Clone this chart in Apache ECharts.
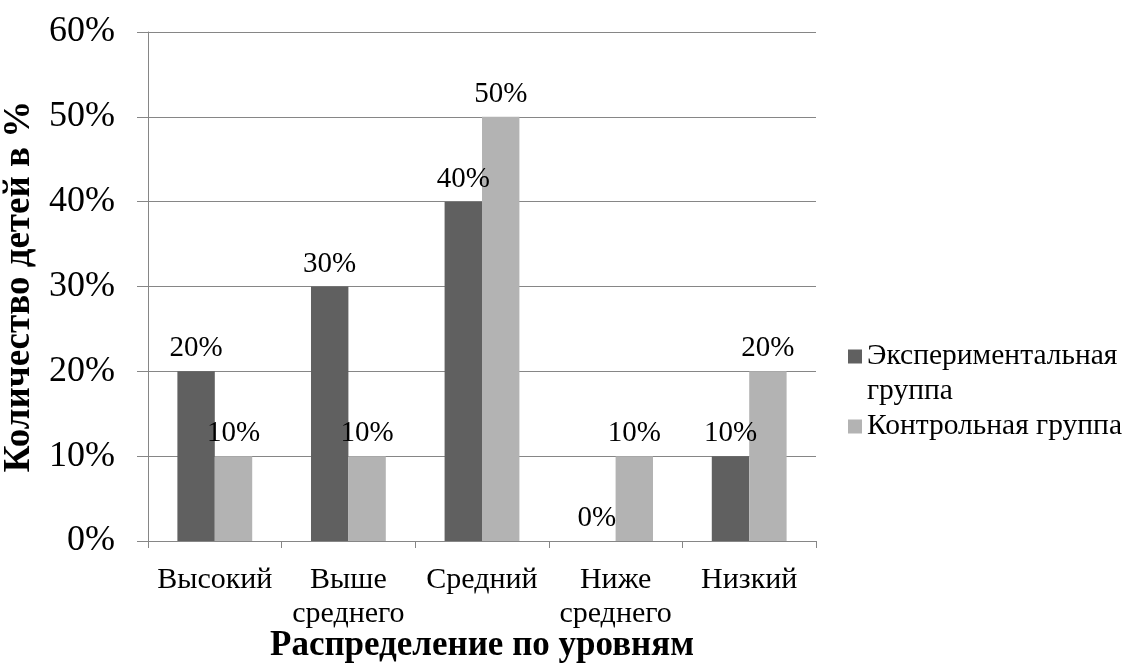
<!DOCTYPE html>
<html>
<head>
<meta charset="utf-8">
<script src="https://cdn.jsdelivr.net/npm/echarts@6/dist/echarts.min.js"></script>
<style>
  html, body { margin: 0; padding: 0; background: #ffffff; }
  #chart { width: 1128px; height: 669px; }
</style>
</head>
<body>
<div id="chart"></div>
<script>
const categories = ['Высокий', 'Выше\nсреднего', 'Средний', 'Ниже\nсреднего', 'Низкий'];
const seriesNames = ['Экспериментальная группа', 'Контрольная группа'];
const experimental = [20, 30, 40, 0, 10];
const control = [10, 10, 50, 10, 20];
const yTicks = { min: 0, max: 60, interval: 10 };

const FONT = 'Liberation Serif';
const GRID_COLOR = '#868686';

const chart = echarts.init(document.getElementById('chart'), null, { renderer: 'canvas' });

const labelStyle = {
  show: true,
  position: 'top',
  distance: 8,
  formatter: '{c}%',
  color: '#000',
  fontFamily: FONT,
  fontSize: 29
};

chart.setOption({
  animation: false,
  backgroundColor: '#ffffff',
  textStyle: { fontFamily: FONT },
  grid: { left: 148, top: 32, right: 312, bottom: 128, containLabel: false, outerBoundsMode: 'none' },
  legend: {
    orient: 'vertical',
    left: 848,
    top: 304,
    padding: 0,
    itemGap: 0,
    itemWidth: 14,
    itemHeight: 14,
    icon: 'rect',
    formatter: function (name) {
      return name === seriesNames[0] ? '\n' + name.replace(' ', '\n') : name;
    },
    textStyle: { fontFamily: FONT, fontSize: 29.5, color: '#000', lineHeight: 35 },
    data: seriesNames
  },
  xAxis: {
    type: 'category',
    data: categories,
    name: 'Распределение по уровням',
    nameLocation: 'middle',
    nameGap: 87,
    nameMoveOverlap: false,
    nameTextStyle: { fontFamily: FONT, fontSize: 35, fontWeight: 'bold', color: '#000' },
    axisLine: { lineStyle: { color: GRID_COLOR, width: 1 } },
    axisTick: { show: true, length: 7, lineStyle: { color: GRID_COLOR } },
    axisLabel: { fontFamily: FONT, fontSize: 30, color: '#000', lineHeight: 34, margin: 22, interval: 0 }
  },
  yAxis: {
    type: 'value',
    min: yTicks.min,
    max: yTicks.max,
    interval: yTicks.interval,
    name: 'Количество детей в %',
    nameLocation: 'middle',
    nameGap: 103,
    nameTextStyle: { fontFamily: FONT, fontSize: 37, fontWeight: 'bold', color: '#000' },
    axisLine: { show: true, lineStyle: { color: GRID_COLOR, width: 1 } },
    axisTick: { show: true, length: 11, lineStyle: { color: GRID_COLOR } },
    axisLabel: { formatter: '{value}%', fontFamily: FONT, fontSize: 36, color: '#000', margin: 33 },
    splitLine: { show: true, lineStyle: { color: GRID_COLOR, width: 1 } }
  },
  series: [
    {
      name: seriesNames[0],
      type: 'bar',
      data: experimental,
      barGap: '0%',
      barCategoryGap: '44%',
      itemStyle: { color: '#606060' },
      label: labelStyle
    },
    {
      name: seriesNames[1],
      type: 'bar',
      data: control,
      barGap: '0%',
      barCategoryGap: '44%',
      itemStyle: { color: '#b3b3b3' },
      label: labelStyle
    }
  ]
});
</script>
</body>
</html>
